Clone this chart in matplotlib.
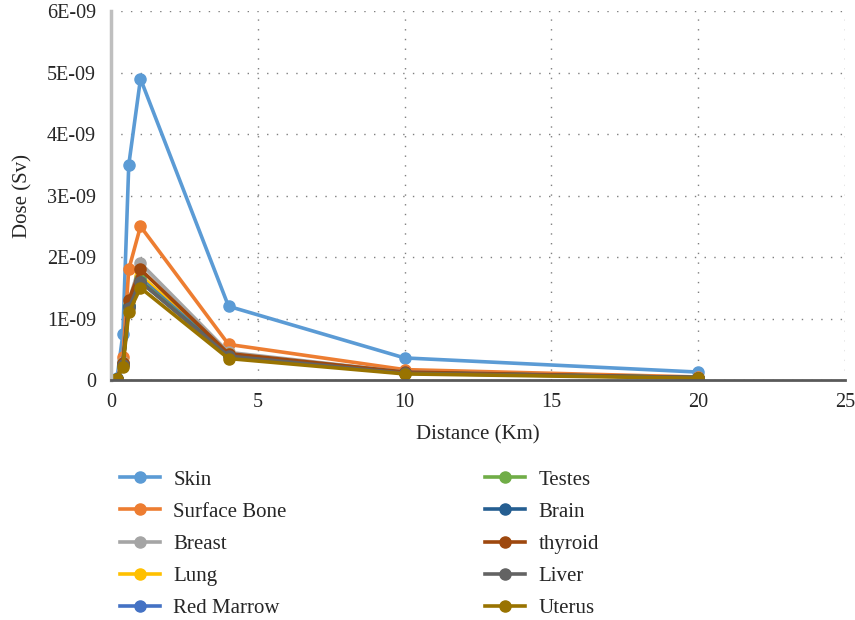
import matplotlib.pyplot as plt

# Distance from source (km)
distance = [0, 0.1, 0.2, 0.4, 0.6, 1, 4, 10, 20]

# Dose per organ (Sv)
skin         = [0, 0.002e-9, 0.03e-9, 0.75e-9, 3.5e-9, 4.9e-9, 1.2e-9, 0.36e-9, 0.13e-9]
surface_bone = [0, 0.001e-9, 0.02e-9, 0.38e-9, 1.8e-9, 2.5e-9, 0.58e-9, 0.17e-9, 0.05e-9]
breast       = [0, 0.001e-9, 0.02e-9, 0.29e-9, 1.28e-9, 1.9e-9, 0.45e-9, 0.13e-9, 0.04e-9]
lung         = [0, 0.001e-9, 0.02e-9, 0.27e-9, 1.22e-9, 1.7e-9, 0.42e-9, 0.12e-9, 0.04e-9]
red_marrow   = [0, 0.001e-9, 0.02e-9, 0.26e-9, 1.2e-9, 1.65e-9, 0.41e-9, 0.12e-9, 0.04e-9]
testes       = [0, 0.001e-9, 0.02e-9, 0.26e-9, 1.2e-9, 1.62e-9, 0.4e-9, 0.12e-9, 0.04e-9]
brain        = [0, 0.001e-9, 0.02e-9, 0.26e-9, 1.2e-9, 1.6e-9, 0.4e-9, 0.12e-9, 0.04e-9]
thyroid      = [0, 0.001e-9, 0.02e-9, 0.28e-9, 1.3e-9, 1.8e-9, 0.43e-9, 0.13e-9, 0.04e-9]
liver        = [0, 0.001e-9, 0.02e-9, 0.25e-9, 1.18e-9, 1.6e-9, 0.39e-9, 0.11e-9, 0.04e-9]
uterus       = [0, 0.001e-9, 0.02e-9, 0.22e-9, 1.1e-9, 1.5e-9, 0.35e-9, 0.1e-9, 0.03e-9]

series = [
    ('Skin', skin, '#5B9BD5'),
    ('Surface Bone', surface_bone, '#ED7D31'),
    ('Breast', breast, '#A5A5A5'),
    ('Lung', lung, '#FFC000'),
    ('Red Marrow', red_marrow, '#4472C4'),
    ('Testes', testes, '#70AD47'),
    ('Brain', brain, '#255E91'),
    ('thyroid', thyroid, '#9E480E'),
    ('Liver', liver, '#636363'),
    ('Uterus', uterus, '#997300'),
]

y_ticks = [0, 1e-9, 2e-9, 3e-9, 4e-9, 5e-9, 6e-9]
y_tick_labels = ['0', '1E-09', '2E-09', '3E-09', '4E-09', '5E-09', '6E-09']
x_ticks = [0, 5, 10, 15, 20, 25]

plt.rcParams['font.family'] = ['Liberation Serif', 'DejaVu Serif']

fig = plt.figure(figsize=(8.55, 6.2), dpi=100)
ax = fig.add_axes([0.13, 0.387, 0.858, 0.595])

for name, values, color in series:
    ax.plot(distance, values, label=name, color=color, linewidth=2.6,
            marker='o', markersize=8, solid_joinstyle='round')

ax.set_xlim(0, 25)
ax.set_ylim(0, 6e-9)
ax.set_xticks(x_ticks)
ax.set_yticks(y_ticks)
ax.set_yticklabels(y_tick_labels)
ax.tick_params(labelsize=14.5, length=0, colors='#262626')
ax.tick_params(axis='y', pad=11)
ax.tick_params(axis='x', pad=9)
ax.set_xlabel('Distance (Km)', fontsize=15, color='#262626', labelpad=10)
ax.set_ylabel('Dose (Sv)', fontsize=15, color='#262626', labelpad=10)

ax.grid(True, linestyle=(0, (1, 6)), color='#7f7f7f', linewidth=1.0)
ax.set_axisbelow(True)

for side in ['top', 'right']:
    ax.spines[side].set_visible(False)
ax.spines['left'].set_color('#bfbfbf')
ax.spines['left'].set_linewidth(2.5)
ax.spines['bottom'].set_color('#595959')
ax.spines['bottom'].set_linewidth(2.0)

handles, labels = ax.get_legend_handles_labels()
fig.legend(handles, labels, loc='upper left', bbox_to_anchor=(0.118, 0.272),
           ncol=2, frameon=False, fontsize=15, handlelength=1.95,
           handletextpad=0.63, columnspacing=9.5, labelspacing=0.6,
           labelcolor='#262626')

fig.savefig('out.png', dpi=100)
